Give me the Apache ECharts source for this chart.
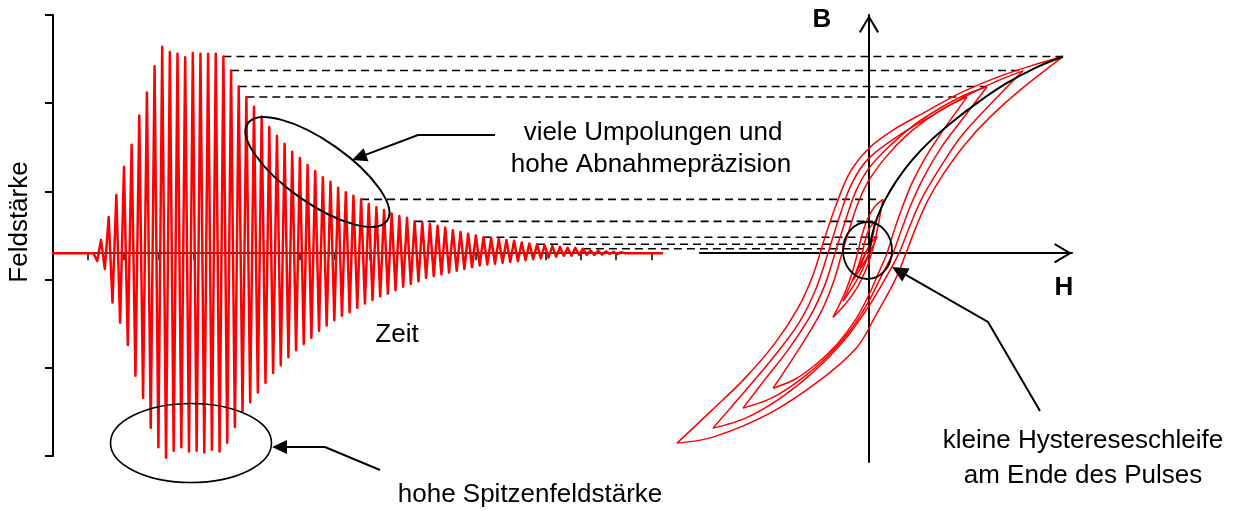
<!DOCTYPE html>
<html><head><meta charset="utf-8">
<script src="https://cdn.jsdelivr.net/npm/echarts@6/dist/echarts.min.js"></script>
<style>html,body{margin:0;padding:0;background:#fff}#c{width:1241px;height:511px}</style>
</head><body><div id="c"></div>
<script>
// ---------- data ----------
const timeTicks = [0,1,2,3,4,5,6,7,8,9,10,11,12,13,14,15,16,17];
const fieldTicks = [-2.3,-1.3,-0.3,0.7,1.7,2.7];
const pulseStart = 1.364;    // time of first positive peak
const pulsePeriod = 0.2173;  // oscillation period
const pulseEnd = 17.3;
const firstDip = -0.09;
const posPeaks = [0.15,0.41,0.66,0.98,1.23,1.56,1.82,2.12,2.34,2.28,
  2.26,2.22,2.27,2.26,2.26,2.26,2.23,2.07,1.89,1.77,
  1.66,1.55,1.43,1.33,1.24,1.15,1.08,1.00,0.93,0.86,
  0.81,0.74,0.69,0.65,0.61,0.56,0.52,0.49,0.45,0.42,
  0.40,0.36,0.35,0.33,0.31,0.29,0.26,0.24,0.22,0.20,
  0.18,0.17,0.16,0.15,0.14,0.12,0.11,0.10,0.09,0.08,
  0.07,0.06,0.06,0.05];
const negPeaks = [-0.18,-0.56,-0.79,-1.04,-1.39,-1.64,-1.98,-2.20,-2.32,-2.24,
  -2.20,-2.25,-2.24,-2.26,-2.23,-2.25,-2.15,-1.97,-1.79,-1.69,
  -1.58,-1.47,-1.36,-1.27,-1.18,-1.10,-1.03,-0.96,-0.88,-0.82,
  -0.76,-0.71,-0.67,-0.62,-0.57,-0.53,-0.49,-0.46,-0.42,-0.38,
  -0.35,-0.32,-0.28,-0.26,-0.24,-0.22,-0.20,-0.18,-0.16,-0.14,
  -0.13,-0.12,-0.11,-0.10,-0.09,-0.08,-0.07,-0.06,-0.05,-0.04,
  -0.03,-0.03,-0.02];
const tailWiggle = [-0.02,0.03,-0.02,0.025,-0.015,0.02,-0.01,0.015,-0.01,0.01];

// dashed guide lines: index of positive peak -> H where it meets the hysteresis tip
const dashPeakIdx = [16,17,18,19,34,41,50,57,63];
const dashTipH = [2.20,1.746,1.338,1.111,0.10,0.045,0.09,-0.01,-0.01];

// hysteresis (H, B)
const neukurve = [[0,0],[0.034,0.204],[0.091,0.397],[0.181,0.601],[0.317,0.828],[0.488,1.054],[0.692,1.270],[0.941,1.485],[1.224,1.701],[1.542,1.916],[1.882,2.098],[2.200,2.229]];
const desc1 = [[2.200,2.229],[1.825,2.120],[1.429,1.984],[1.032,1.814],[0.635,1.599],[0.272,1.395],[0,1.190],[-0.215,0.918],[-0.374,0.544],[-0.510,0.147],[-0.635,-0.249],[-0.805,-0.624],[-1.066,-1.020],[-1.406,-1.417],[-1.780,-1.780],[-2.177,-2.154]];
const asc1 = [[-2.177,-2.154],[-1.769,-2.086],[-1.122,-1.814],[-0.556,-1.440],[-0.136,-1.066],[0.091,-0.680],[0.295,-0.306],[0.420,0],[0.533,0.295],[0.669,0.601],[0.850,0.907],[1.100,1.247],[1.372,1.542],[1.712,1.848],[2.200,2.229]];
const desc2 = [[1.746,2.067],[1.45,1.95],[1.10,1.78],[0.75,1.58],[0.38,1.36],[0,1.077],[-0.19,0.80],[-0.33,0.43],[-0.465,0],[-0.60,-0.40],[-0.80,-0.80],[-1.10,-1.20],[-1.42,-1.58],[-1.769,-1.984]];
const asc2 = [[-1.769,-1.984],[-1.40,-1.87],[-1.00,-1.64],[-0.60,-1.32],[-0.25,-0.95],[0,-0.60],[0.19,-0.28],[0.34,0],[0.46,0.30],[0.60,0.62],[0.80,0.96],[1.05,1.33],[1.35,1.66],[1.746,2.067]];
const desc3 = [[1.338,1.886],[1.08,1.79],[0.80,1.64],[0.52,1.46],[0.25,1.23],[0,0.964],[-0.15,0.70],[-0.27,0.36],[-0.385,0],[-0.50,-0.36],[-0.67,-0.72],[-0.92,-1.10],[-1.17,-1.42],[-1.429,-1.757]];
const asc3 = [[-1.429,-1.757],[-1.12,-1.65],[-0.80,-1.45],[-0.48,-1.18],[-0.20,-0.86],[0,-0.54],[0.15,-0.24],[0.272,0],[0.37,0.27],[0.48,0.56],[0.63,0.88],[0.82,1.20],[1.06,1.52],[1.338,1.886]];
const desc4 = [[1.111,1.769],[0.90,1.67],[0.66,1.52],[0.42,1.33],[0.20,1.10],[0,0.828],[-0.12,0.58],[-0.22,0.28],[-0.306,0],[-0.40,-0.32],[-0.53,-0.64],[-0.72,-0.97],[-0.90,-1.25],[-1.088,-1.531]];
const asc4 = [[-1.088,-1.531],[-0.84,-1.43],[-0.60,-1.26],[-0.36,-1.03],[-0.15,-0.75],[0,-0.47],[0.11,-0.22],[0.204,0],[0.28,0.24],[0.37,0.50],[0.49,0.80],[0.65,1.10],[0.86,1.42],[1.111,1.769]];
const desc5 = [[0.159,0.609],[0.06,0.52],[-0.02,0.38],[-0.08,0.20],[-0.13,0],[-0.19,-0.22],[-0.27,-0.44],[-0.408,-0.726]];
const asc5 = [[-0.408,-0.726],[-0.27,-0.58],[-0.14,-0.40],[-0.04,-0.20],[0.03,0],[0.08,0.20],[0.12,0.40],[0.159,0.609]];
const desc6 = [[0.068,0.363],[0,0.27],[-0.05,0.12],[-0.09,-0.05],[-0.15,-0.22],[-0.295,-0.544]];
const asc6 = [[-0.295,-0.544],[-0.17,-0.36],[-0.07,-0.18],[0,0],[0.04,0.17],[0.068,0.363]];
const desc7 = [[0.091,0.185],[0.02,0.11],[-0.05,-0.02],[-0.181,-0.306]];
const asc7 = [[-0.181,-0.306],[-0.06,-0.12],[0.03,0.05],[0.091,0.185]];
const desc8 = [[0.023,0.099],[-0.03,0.02],[-0.102,-0.17]];
const asc8 = [[-0.102,-0.17],[-0.01,-0.03],[0.023,0.099]];
const branches = [desc1,asc1,desc2,asc2,desc3,asc3,desc4,asc4,desc5,asc5,desc6,asc6,desc7,asc7,desc8,asc8];

// ---------- build ----------
const FONT = '"Liberation Sans", Arial, sans-serif';
const RED = '#ff0000';
const pulse = [[0,0],[pulseStart - pulsePeriod,0],[pulseStart - pulsePeriod/2, firstDip]];
posPeaks.forEach((v,k)=>{
  pulse.push([pulseStart + k*pulsePeriod, v]);
  if (k < negPeaks.length) pulse.push([pulseStart + (k+0.5)*pulsePeriod, negPeaks[k]]);
});
let tEnd = pulseStart + (posPeaks.length-1)*pulsePeriod;
tailWiggle.forEach((v)=>{ tEnd += pulsePeriod/2; pulse.push([tEnd, v]); });
pulse.push([tEnd + pulsePeriod/2, 0],[pulseEnd, 0]);

const chevron = 'path://M10,0 L20,16.8 L18.3,18 L10,3.8 L1.7,18 L0,16.8 Z';

const series = [];
series.push({type:'line', xAxisIndex:2, yAxisIndex:2, data:pulse, symbol:'none', clip:false,
  lineStyle:{color:RED, width:2.5, join:'round', cap:'round'}, z:3, silent:true});
branches.forEach((b)=>series.push({type:'line', xAxisIndex:1, yAxisIndex:1, data:b, symbol:'none', smooth:0.35, clip:false,
  lineStyle:{color:RED, width:1.5}, z:4, silent:true}));
series.push({type:'line', xAxisIndex:1, yAxisIndex:1, data:neukurve, symbol:'none', smooth:0.35, clip:false,
  lineStyle:{color:'#000', width:2}, z:5, silent:true});
dashPeakIdx.forEach((k,i)=>series.push({id:'dash'+i, type:'line', xAxisIndex:0, yAxisIndex:0, data:[], symbol:'none', clip:false,
  lineStyle:{color:'#000', width:1.6, type:[8,5]}, z:2, silent:true}));

function txt(x,y,s,opt){
  const o = {type:'text', x:x, y:y, z:100, silent:true,
    style:{text:s, fontFamily:FONT, fontSize:26, fill:'#000', align:'center', verticalAlign:'middle'}};
  if (opt && opt.rotation) o.rotation = opt.rotation;
  if (opt && opt.bold) o.style.fontWeight = 'bold';
  return o;
}
function arrow(pts, len, hw){
  const tip = pts[pts.length-1], a = pts[pts.length-2];
  const dx = tip[0]-a[0], dy = tip[1]-a[1], L = Math.hypot(dx,dy), ux = dx/L, uy = dy/L;
  const bx = tip[0]-ux*len, by = tip[1]-uy*len;
  const line = pts.slice(0,-1).concat([[bx,by]]);
  return [
    {type:'polyline', z:100, silent:true, shape:{points:line}, style:{stroke:'#000', lineWidth:2, fill:null}},
    {type:'polygon', z:100, silent:true, shape:{points:[tip,[bx-uy*hw,by+ux*hw],[bx+uy*hw,by-ux*hw]]}, style:{fill:'#000'}}
  ];
}
const graphics = [
  txt(20,222,'Feldstärke',{rotation:Math.PI/2}),
  txt(397,335,'Zeit'),
  txt(822,20,'B',{bold:true}),
  txt(1064,288,'H',{bold:true}),
  txt(653,133,'viele Umpolungen und'),
  txt(651,165,'hohe Abnahmepräzision'),
  txt(530,495,'hohe Spitzenfeldstärke'),
  txt(1083,441,'kleine Hystereseschleife'),
  txt(1083,476,'am Ende des Pulses'),
  {type:'ellipse', x:317.5, y:172, rotation:-0.61, z:100, silent:true, shape:{cx:0, cy:0, rx:85, ry:31}, style:{fill:null, stroke:'#000', lineWidth:2}},
  {type:'ellipse', z:100, silent:true, shape:{cx:191, cy:443, rx:80.5, ry:39.5}, style:{fill:null, stroke:'#000', lineWidth:1.6}},
  {type:'ellipse', z:100, silent:true, shape:{cx:867.5, cy:250.5, rx:24.5, ry:28.5}, style:{fill:null, stroke:'#000', lineWidth:1.8}}
].concat(arrow([[495,135],[418,135],[352,160]],15,7))
 .concat(arrow([[380,470],[325,447],[272,447]],15,7))
 .concat(arrow([[1040,411],[988,322],[892,267]],16,7.5));

const hidden = {show:false};
const option = {
  animation:false,
  backgroundColor:'#fff',
  grid:[
    {left:53, top:15, width:1019, height:441},   // wide field grid (y axis + guides)
    {left:660, top:15, width:412, height:447},   // hysteresis B-H
    {left:53, top:15, width:609, height:441},    // time axis
    {left:700, top:15, width:372, height:447}    // H axis
  ],
  xAxis:[
    {gridIndex:0, type:'value', min:0, max:28.9489, show:false},
    {gridIndex:1, type:'value', min:-2.370, max:2.302, show:false},
    {gridIndex:2, type:'value', min:0, max:pulseEnd, interval:1,
      axisLine:{show:true, onZero:true, lineStyle:{color:'#000', width:1.5}},
      axisTick:{show:true, length:7, customValues:timeTicks, lineStyle:{color:'#000', width:1.5}},
      axisLabel:{show:false}, splitLine:{show:false}},
    {gridIndex:3, type:'value', min:-1.916, max:2.302,
      axisLine:{show:true, onZero:true, symbol:['none',chevron], symbolSize:[20,18], symbolOffset:[0,-9], lineStyle:{color:'#000', width:2}},
      axisTick:{show:false}, axisLabel:{show:false}, splitLine:{show:false}}
  ],
  yAxis:[
    {gridIndex:0, type:'value', min:-2.3, max:2.7, interval:1,
      axisLine:{show:true, onZero:false, lineStyle:{color:'#000', width:2}},
      axisTick:{show:true, length:8, customValues:fieldTicks, lineStyle:{color:'#000', width:2}},
      axisLabel:{show:false}, splitLine:{show:false}},
    {gridIndex:1, type:'value', min:-2.368, max:2.7,
      axisLine:{show:true, onZero:true, symbol:['none',chevron], symbolSize:[20,18], symbolOffset:[0,-9], lineStyle:{color:'#000', width:2}},
      axisTick:{show:false}, axisLabel:{show:false}, splitLine:{show:false}},
    {gridIndex:2, type:'value', min:-2.3, max:2.7, axisLine:hidden, axisTick:hidden, axisLabel:hidden, splitLine:hidden},
    {gridIndex:3, type:'value', min:-2.368, max:2.7, axisLine:hidden, axisTick:hidden, axisLabel:hidden, splitLine:hidden}
  ],
  series:series,
  graphic:graphics
};
const chart = echarts.init(document.getElementById('c'), null, {renderer:'canvas'});
chart.setOption(option);
// dashed guides: from the pulse peak to the hysteresis tip (H mapped through both axes)
const toTime = h => chart.convertFromPixel({xAxisIndex:0}, chart.convertToPixel({xAxisIndex:1}, h));
chart.setOption({series: dashPeakIdx.map((k,i)=>({id:'dash'+i,
  data:[[pulseStart + k*pulsePeriod, posPeaks[k]],[toTime(dashTipH[i]), posPeaks[k]]]}))});
</script></body></html>
